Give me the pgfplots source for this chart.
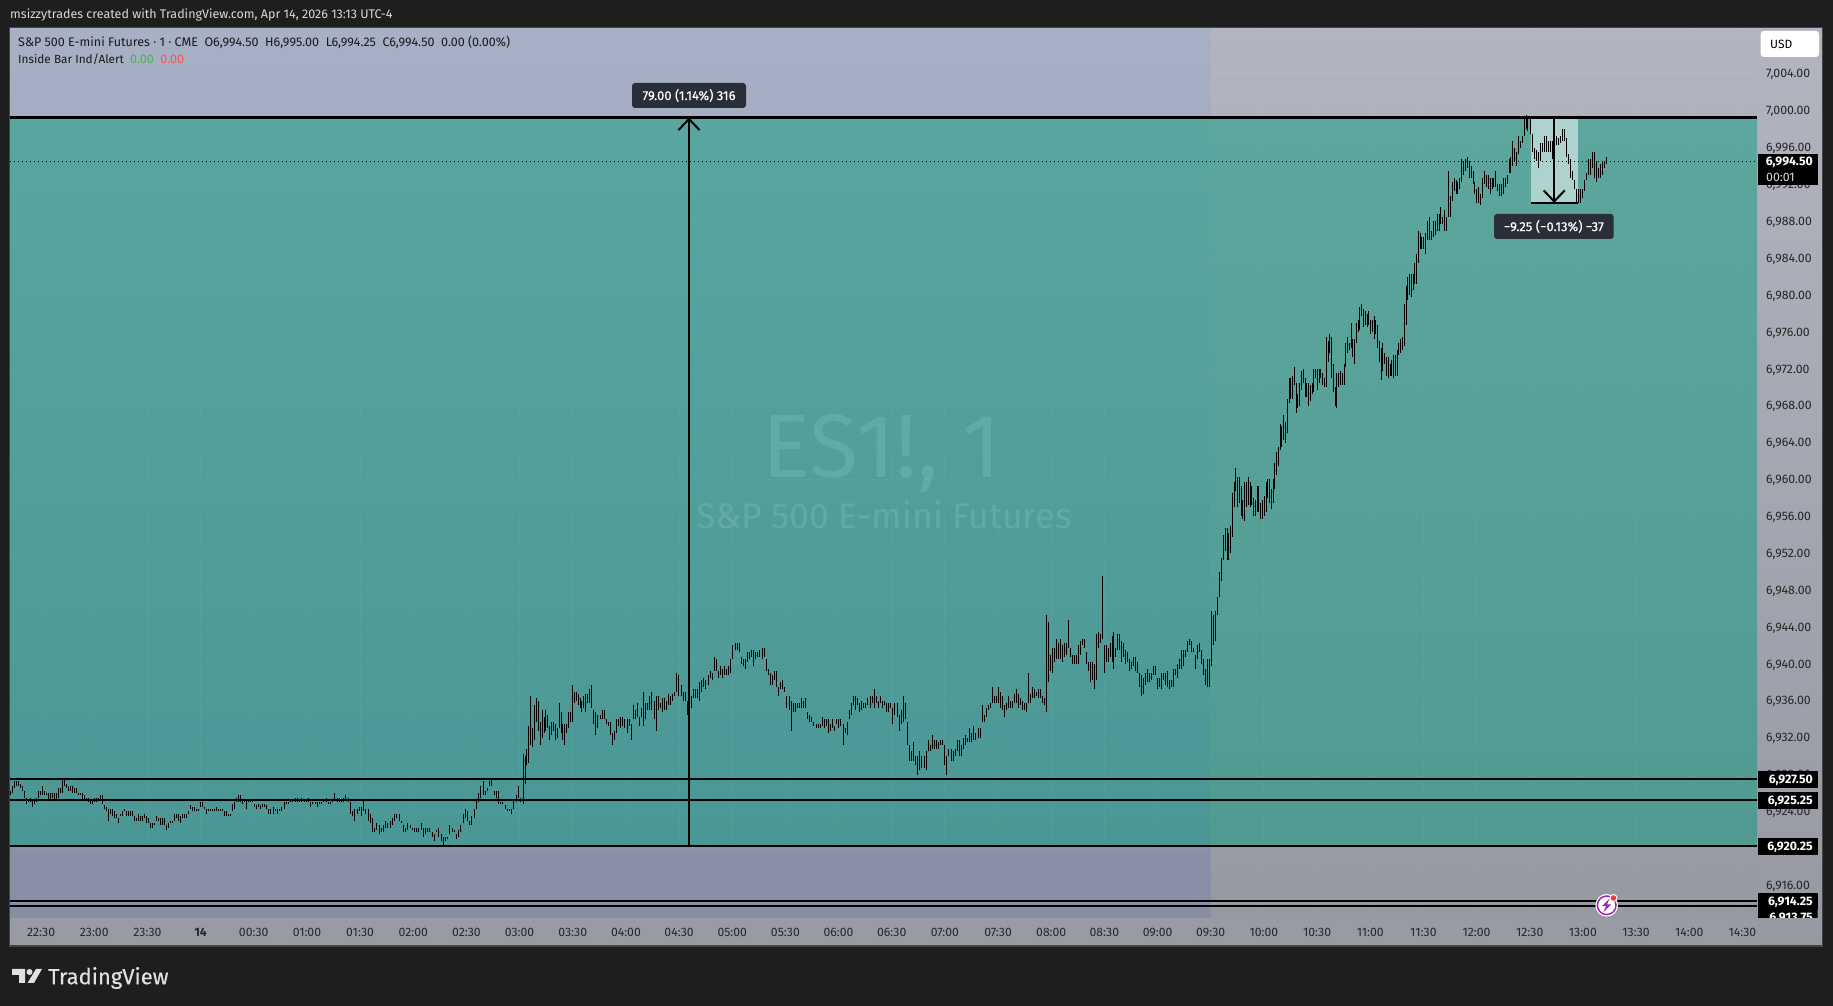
\documentclass[border=0pt]{standalone}
\usepackage{fontspec}
\setmainfont{Fira Sans}
\newfontfamily\semib[FakeBold=0.35]{Fira Sans}
\usepackage{pgfplots}
\pgfplotsset{compat=1.18}
\usetikzlibrary{arrows.meta}
\definecolor{pagebg}{HTML}{1E1E1E}
\definecolor{frameg}{HTML}{444444}
\definecolor{ltop}{HTML}{A8B0C5}
\definecolor{lbot}{HTML}{878EA3}
\definecolor{rtop}{HTML}{B2B4BF}
\definecolor{rbot}{HTML}{9699A2}
\definecolor{tealtl}{HTML}{59A5A0}
\definecolor{tealbl}{HTML}{4B9795}
\definecolor{tealtr}{HTML}{5CA69D}
\definecolor{tealbr}{HTML}{519A92}
\definecolor{boxdark}{HTML}{2A2E39}
\definecolor{tvgreen}{HTML}{4CAF50}
\definecolor{tvred}{HTML}{F55555}
\definecolor{wm}{HTML}{60ABA6}
\definecolor{tvpurple}{HTML}{9C27B0}
\definecolor{timebg}{HTML}{989BA4}
\definecolor{mfill}{HTML}{AED3CF}
\definecolor{dotred}{HTML}{F23645}
\definecolor{logog}{HTML}{E0E0E0}
\pgfplotsset{bars/.style={forget plot,draw=none,mark=none,
  error bars/.cd,y dir=plus,y explicit,error mark=none,
  error bar style={solid,draw=black,line width=1pt}}}
\newcommand{\fs}[1]{\fontsize{#1}{#1}\selectfont}
\begin{document}
\begin{tikzpicture}[x=1pt,y=1pt]
\begin{scope}[x=1pt,y=-1pt,yshift=1006pt]
\fill[pagebg] (0,0) rectangle (1833,1006);
% panes
\shade[top color=ltop,bottom color=lbot] (10,28) rectangle (1211,918);
\shade[top color=rtop,bottom color=rbot] (1211,28) rectangle (1757,918);
\shade[top color=rtop,bottom color=rbot] (1757,28) rectangle (1822,946);
\fill[timebg] (10,918) rectangle (1757,946);
\shade[top color=tealtl,bottom color=tealbl] (10,117.7) rectangle (1211,846);
\shade[top color=tealtr,bottom color=tealbr] (1211,117.7) rectangle (1757,846);
\draw[frameg,line width=1.5pt] (9.5,27.5) rectangle (1822.5,946);
% watermark
\node[wm,anchor=center,inner sep=0pt] at (882,453) {\fs{90}ES1!, 1};
\node[wm,anchor=center,inner sep=0pt] at (884,515) {\fs{35.6}S\&P 500 E-mini Futures};
% short measure fill
\fill[mfill] (1530.7,117.7) rectangle (1577.7,203);
\end{scope}
\begin{axis}[at={(10pt,88pt)},anchor=south west,scale only axis,width=1747pt,height=890pt,
  xmin=-17.55,xmax=968.25,ymin=6912.44,ymax=7008.97,
  axis line style={draw=none},major tick length=0pt,
  xmajorgrids,ymajorgrids,grid style={white,opacity=0.03,line width=1pt},
  xtick={0,30,...,960},
  xticklabels={22:30,23:00,23:30,\textbf{14},00:30,01:00,01:30,02:00,02:30,03:00,03:30,04:00,04:30,05:00,05:30,06:00,06:30,07:00,07:30,08:00,08:30,09:00,09:30,10:00,10:30,11:00,11:30,12:00,12:30,13:00,13:30,14:00,14:30},
  ytick={6916,6920,6924,6928,6932,6936,6940,6944,6948,6952,6956,6960,6964,6968,6972,6976,6980,6984,6988,6992,6996,7000,7004},
  scaled y ticks=false,yticklabel pos=right,xticklabel pos=bottom,
  xticklabel style={anchor=center,yshift=-14pt,inner sep=0pt,font=\fs{12.2},text=black!85},
  yticklabel style={anchor=west,xshift=9pt,yshift=-1pt,inner sep=0pt,font=\fs{12.3},text=black!85,
    /pgf/number format/.cd,fixed,fixed zerofill,precision=2,1000 sep={,},assume math mode=true},
  clip=true]
\addplot[bars] table[x expr=-17+\coordindex*1.125,y expr=6900+\thisrow{l},y error expr=\thisrow{h}-\thisrow{l}] {
l h
25.75 26.25
26 26.75
26.5 27.25
26.75 27.25
26.75 27.25
26.5 27
26.25 26.75
25.5 26.25
24.75 25.5
25 25.25
25 25.5
24.5 25.25
24.75 25.25
25 25.5
25.5 26.25
25.75 26.25
25.75 26.75
25.75 26.25
25.75 26
25.25 26
25.25 26
25.5 26
25.25 26
25.25 26
25.5 26.5
26 26.5
26 27.5
26.75 27.5
26.5 27
26.25 26.75
26.25 26.75
26 26.75
26 26.5
26 26.5
25.75 26
25.75 26
25.25 26
25.25 25.75
25.25 25.5
25 25.5
24.75 25.25
24.75 25.25
25 25.5
25 25.5
25.25 25.5
25.25 25.75
24.75 25.75
24.25 24.75
24 24.5
23 24.25
23.75 24.25
23.5 24.25
23.25 24
23.25 23.75
22.75 23.25
23.5 23.75
23.5 24
24 24.25
23.5 24
23.5 24
23.5 24
23.5 24
23 23.5
23 23.25
23 23.75
23 23.5
23 23.5
23.25 23.75
22.75 23.5
22.75 23.25
22.25 22.75
22.25 22.75
22.5 22.75
23 23.5
23 23.25
22.5 23.25
22.5 23.25
22.5 23.25
22 22.5
22.25 22.75
22.75 23
22.75 23
23 23.75
23.25 23.75
23 23.75
22.75 23.5
23.25 23.75
23.25 23.75
23.25 23.75
23.75 24
24.25 24.75
24 24.5
24 24.5
24 24.25
24 24.25
24.5 25
24.5 25
24.25 24.5
23.75 24.25
24 24.25
24 24.25
24 24.25
24 24.25
24 24.5
24 24.25
24 24.25
24 24.25
23.5 24
23.5 24
23.5 23.75
23.5 23.75
24 24.75
24.25 25
25 25.5
25 25.75
25 25.75
24.75 25.25
25 25.25
24.25 25.25
25 25.25
25 25.25
25 25.25
24.5 24.75
24.25 24.75
24.5 24.75
24.25 24.75
24.5 24.75
24.5 24.75
24.25 24.75
};
\addplot[bars] table[x expr=128.4+\coordindex*1.247,y expr=6900+\thisrow{l},y error expr=\thisrow{h}-\thisrow{l}] {
l h
23.75 24.25
23.75 24.25
23.75 24.5
24 24.25
23.75 24.25
24 24.25
24 24.5
24.25 25
24.75 25
24.75 25
25 25.25
25 25.25
25 25.5
25 25.5
25 25.25
25 25.5
25 25.25
25 25.25
25 25.5
24.5 25
24.75 25
24.75 25
24.5 25
24.75 25
24.75 25
25 25.25
25 25.5
24.75 25
24.75 25
25 25.25
25.25 26
25 25.5
25 25.5
25 25.25
25 25.5
25.25 25.75
25 25.5
23.75 25
23.5 24
23 24.25
23.75 24.25
24 24.5
23.5 24.5
24 25.25
23.75 24.25
23 24.25
22.75 23.75
21.75 23.25
21.75 22.25
22 22.75
21.5 22.5
21.75 22.25
21.75 22.5
22.25 23
22.25 22.75
22.25 23
22.5 23.25
23 23.75
23.25 23.75
23 23.75
22.75 23
21.75 22.5
21.75 22.25
22 22.75
22.25 22.5
22 22.25
21.75 22.25
21.75 22.25
21.75 22.25
22 22.75
21.25 22.25
21.5 22.25
21.75 22.25
21.75 22.25
21.25 21.75
20.75 21.5
21.75 22
21.25 22.25
20.75 21.5
20.25 21.25
20.75 21.25
21 21.25
21.5 22.5
21.75 22.25
21.75 22
21 21.5
21.25 22
21.75 22.5
22.75 23.75
23.25 24.25
23 24
22.5 23
22.5 23.5
23.25 24.25
24.25 25.25
25 26
25.5 26.75
25.75 27.25
25.75 26.25
26.25 26.5
26.75 27.25
26.75 27.5
25.75 26.25
25.5 26.25
24.75 26.25
24.75 25
24.75 25
24.25 24.75
24 24.25
24 24.25
23.75 24.25
24.25 25.25
25 25.75
25.5 26.75
25 25.5
};
\addplot[bars] table[x expr=272+\coordindex*1.071,y expr=6900+\thisrow{l},y error expr=\thisrow{h}-\thisrow{l}] {
l h
24.75 30.25
27 30
29 30.75
29.25 33.25
31.25 36.5
31 33
31.75 35.5
33.75 36.25
32.75 36
31.25 33.75
32 35
32.5 34.25
32.75 35
33 34.5
31.75 33.25
32.25 33.75
32.75 33.75
31.75 33.5
32 33
33 35.75
32.5 34.75
31.75 33.5
31.25 33.5
32.5 33.5
33 34.75
33.75 34.75
33.75 37.75
35.75 37
36 37
35.5 36.75
35.25 36.25
34.75 36
35.25 36.5
34.75 36.75
35.75 36.75
35.75 37.25
};
\addplot[bars] table[x expr=310.7+\coordindex*1.172,y expr=6900+\thisrow{l},y error expr=\thisrow{h}-\thisrow{l}] {
l h
35.25 37.75
33.5 35
32.25 34.75
33 34.5
34 34.5
34 35
34 35
33.5 34
33.25 33.75
32.25 33.75
31.25 32.5
31.75 32.75
32.5 34
33.25 34
33 34.25
33.25 34.25
33 34
32.5 34
33.25 34
31.75 33.5
34 35.5
34 35
34.25 35.75
33.25 34.25
34.25 35.25
33.25 37
34 35.75
35 35.75
35 36.5
35 37
34 36
32.75 36.5
35 36.5
35.25 35.75
34.75 36.25
35 36.25
35 36
35.5 36.75
35.5 36.5
36 36.75
36.5 37
37 39
36.5 38.75
36.5 37.75
36 37
36 37
34.5 36
34.5 35.75
35.25 36.5
36.25 37.25
36.25 37.25
36.25 37.25
36 38
37 38.25
37.5 38.5
37.25 38.25
37.75 38.75
38.5 39.25
38.25 39
39.25 40.75
39.25 40.5
38.5 39.25
38.75 39.75
38.5 39.5
38.75 39.75
38.75 39.5
38.75 39.75
39 40.5
40.5 42
41.5 42.25
41.5 42.25
41.25 42.25
40 40.75
39.75 40.5
39.5 40.5
40.25 41.25
40.5 41.25
40.75 41.5
39.75 41.5
40.5 41.25
40.75 41.25
40.75 41.5
40.5 41.75
40.75 41.75
39.25 40.5
38.75 39.5
37.75 39
37.75 38.75
38.25 39.25
37.5 39.25
36.5 37.5
37.25 38
37.25 38.25
37 37.5
35.25 36.5
35 36.5
32.75 36
34.75 35.75
34.75 35.75
35.25 35.75
35.25 35.75
35.25 36.25
35.25 36
35.25 36.25
34 34.75
33.75 34.5
33.75 34.25
33.25 33.75
33 33.5
33 33.5
33 33.5
33.25 34.25
33 34
33.25 34
32.5 34
32.75 33.5
33 34
32.75 33.25
33.5 34
33 34
33.25 34
31.25 33.5
32.5 33
32.25 33.75
34 35
34.5 35.75
35.5 36.5
35 36.5
35.5 36.25
34.75 35.75
35 36
35.25 35.75
35.25 35.75
35.5 36.25
35.25 36.5
35.75 36.5
35.25 37.25
35.75 36.5
35.25 36
35.75 36.5
35.25 36
35.5 36
34.75 35.75
34.75 35.75
35.25 35.75
33.5 35.25
34.5 35.75
34.25 35.75
32.75 34.5
33.5 35
33.75 36.5
34 35.75
31.25 33.75
29.5 31.25
29.5 30.5
29.5 31.5
29 30
28 30
28.5 30.5
28.75 30
28.75 30
28.5 30.5
30.5 31.75
30.5 31.25
30.75 32.25
30.75 31.75
30.75 31.75
30.75 31.5
31.25 31.75
31.25 31.75
29 31.25
28 30
30 30.75
29.5 30.75
29.5 30.5
30 30.75
30.5 31.75
30 31.75
30 31.25
30.75 32
31.25 32.25
31.5 32
31.5 33
31.5 32.5
31.75 33.25
31.75 32.5
32 33
32 33
33.75 35.5
33.75 34.5
34.25 35.25
35 35.5
35.25 35.75
35.75 37.5
35.75 36.5
35.75 36.5
35.75 37.5
};
\addplot[bars] table[x expr=541.4+\coordindex*1.123,y expr=6900+\thisrow{l},y error expr=\thisrow{h}-\thisrow{l}] {
l h
35.25 37
35 36.5
34.25 35.5
35 35.75
35.25 36.5
35.25 36
35.25 36
35.75 36.75
35.75 37.25
35.25 36.75
35.5 36.25
35 36
35 35.75
34.75 35.75
35.75 39
35.75 36.75
36.25 37.5
36.25 37.25
36.5 37
36.25 37.25
36.25 37.25
35.75 36.5
35.5 36.25
34.75 45.25
38 44.5
39.25 41
39 41.75
40.25 41.75
40.5 42.75
40.5 42.25
40.5 42.75
40.25 42
40.75 42.25
41 42.25
41.75 44.75
40.75 41.75
40 41
40 41
40 41
40 42
41 42.5
42 42.75
41.75 42.75
40 41.25
39.25 40.25
38 40.25
38.25 40.25
37.25 40
38.25 43.25
41.75 43.5
42.25 43.25
42.75 49.5
39 42
40.25 42
40.25 41.75
40.75 42.25
40.25 43
39.5 43.5
40.75 41.75
41.5 43.25
41.5 43.25
40.25 42.5
40.75 42.25
40 41.5
40.25 41.25
39.25 40.5
39.5 40.25
39.75 40.75
39.25 40.75
39 40.25
37.5 39
36.5 38.75
36.75 38.5
37.75 39
38 39.5
38 39
38.25 39
38.75 39.75
38.75 39.75
37.25 38.5
37.5 38.5
37.25 39
38.25 39
37.75 39
37.5 39.25
37.25 38.25
37.5 38.25
37.5 39.5
38.75 39.5
38.5 40
39.5 40.5
39.5 41.5
39.75 41.5
40.75 41.5
41.25 42.5
42 42.75
41.25 42.5
41.25 41.75
39.5 41
40.5 42
41.25 42.25
40 41.5
38.75 40.5
37.75 39.5
37.5 40.5
37.5 40.5
39.75 45.75
42 45.25
42.5 45.75
45.25 47.25
47.25 50
49 51.5
};
\addplot[bars] table[x expr=667.2+\coordindex*1.0,y expr=6900+\thisrow{l},y error expr=\thisrow{h}-\thisrow{l}] {
l h
51.25 54
52.25 54.75
51.25 54.75
51.25 54.25
52 55
53.75 58.5
57 59.75
58.75 61.25
57 60.25
57.5 60.25
56 59.25
55.75 57.75
55.5 59.75
57 59.75
57.25 60.25
57 59.75
57.25 59.25
56 58
56 57.75
56.5 59.25
56.5 59.25
55.75 57.5
55.75 57.75
56 58.25
56.5 59.75
58 60
57.5 60
56.75 59
57.5 60
59 61.75
60.5 63
61.5 63.5
63.25 66
63.5 65.75
64.25 67
64 66.25
65 68.75
68.25 71
68.75 71
68.75 71.25
70.25 72.25
67.25 70.5
67.75 69.25
68 70.5
69.75 71.75
70.5 72
69 71
69 70.5
68 70.5
68.5 70.25
69.25 70.5
69.5 72
71 72
69.75 72
70.5 72
71 72
70.25 71.5
70 71
70 75.5
72.75 75
73.75 75.75
71 75.5
69.5 72.5
68 70
67.75 71.5
70 71.5
70.25 71.75
70.25 71.5
70.25 72.5
72.25 74.75
73.75 75.5
74 74.75
74.25 77
73.25 75.25
72.5 75.25
74.75 77
76 77.25
76.25 78.75
77.75 79
76.5 78.5
76.75 78.25
76.5 78
76.75 78.25
75.75 77.25
76 77.25
75.25 77.75
75.75 77.25
74.25 76.75
72.75 75
70.75 74.25
71.75 74.75
72.5 73.75
71.25 73.25
71 73.25
71.25 72.5
71.25 73
71 73.5
71.25 73.5
71.25 74
73.5 74.75
73.75 75.25
74 75.5
74.5 79
76.75 81
79.5 82
80 82.25
79.75 82.25
80.5 82.25
81.25 83.5
};
\addplot[bars] table[x expr=776+\coordindex*1.068,y expr=6900+\thisrow{l},y error expr=\thisrow{h}-\thisrow{l}] {
l h
81.25 84.5
83.5 87
85 86.75
85 86.25
85 86.25
84.5 86.75
86 88
86 88.5
86 87
86.25 88
86.5 88
87 88.75
87 88.75
87.75 89.5
87.75 88.5
87 89.25
87 88.5
88.5 93.5
88.5 90.75
90.25 92.25
91.25 92.75
91 92.5
91 92.25
91.5 92.75
92.25 94.75
93 94.5
93.5 94.75
93.75 95
92.75 94.5
92.75 94
92 93.5
91 92.25
90 91.5
90 91.75
89.75 91
90.5 92.75
92 93.5
91.75 93
91.5 93
91 92.75
91.5 92.75
91.75 92.75
91.75 93.5
91.25 92
90.75 92
90.75 92
91 92.75
91.75 92.75
92 93
93.25 94.75
93.25 95
94 96.75
94.5 96
94 95.5
95.25 97.25
96 96.75
96.5 97.25
97.25 99.25
98 99.5
97.75 99.25
};
\addplot[bars] table[x expr=840.2+\coordindex*1.134,y expr=6900+\thisrow{l},y error expr=\thisrow{h}-\thisrow{l}] {
l h
97.5 99.25
95.5 97.5
94.75 96
94.5 95.75
93.75 95.5
94.5 96.5
95.5 96.5
95.5 97.25
95.5 97.25
95.5 96.75
95.5 96.75
94.75 96.75
95.5 96.75
96.25 97.25
96.25 97
96.5 97.25
96.75 98
96.75 98
95 97
94.25 95.25
92.75 94.75
92.5 93.5
91.5 92.5
90 91.5
90 91.5
90 91.5
90.5 91.5
91.25 92.5
92.5 93.25
93 94.75
93 94.75
93.75 95.5
92.75 95.5
92.25 94.5
92.75 93.75
92.75 94.25
93 94.5
93.75 94.5
94.25 95
};
% levels
\addplot[black,line width=2.5pt,forget plot] coordinates {(-17.55,6999.25)(968.25,6999.25)};
\addplot[black,line width=1.2pt,dash pattern=on 1pt off 3pt,forget plot] coordinates {(-17.55,6994.45)(968.25,6994.45)};
\addplot[black,line width=2pt,forget plot] coordinates {(-17.55,6927.5)(968.25,6927.5)};
\addplot[black,line width=2pt,forget plot] coordinates {(-17.55,6925.25)(968.25,6925.25)};
\addplot[black,line width=1.6pt,forget plot] coordinates {(-17.55,6920.25)(968.25,6920.25)};
\addplot[black,line width=2pt,forget plot] coordinates {(-17.55,6914.25)(968.25,6914.25)};
\addplot[black,line width=2pt,forget plot] coordinates {(-17.55,6913.75)(968.25,6913.75)};
% measures
\draw[black,line width=2pt,-{Straight Barb[length=11pt,width=21pt,line width=2pt]}] (axis cs:365.6,6920.25) -- (axis cs:365.6,6999.25);
\draw[black,line width=2pt,-{Straight Barb[length=11pt,width=21pt,line width=2pt]}] (axis cs:853.8,6999.25) -- (axis cs:853.8,6990);
\addplot[black,line width=2pt,forget plot] coordinates {(840.6,6990)(867.2,6990)};
\end{axis}
\begin{scope}[x=1pt,y=-1pt,yshift=1006pt]
% measure labels
\fill[boxdark,rounded corners=3pt] (632,83) rectangle (746,108);
\node[white,inner sep=0pt] at (689,95.5) {\fs{13}\semib 79.00 (1.14\%) 316};
\fill[boxdark,rounded corners=3pt] (1494,214) rectangle (1613.7,239);
\node[white,inner sep=0pt] at (1553.8,226.5) {\fs{13}\semib −9.25 (−0.13\%) −37};
% price tags
\fill[black] (1758,154.3) rectangle (1817.7,184.7);
\node[white,inner sep=0pt,anchor=east] at (1813,162.5) {\fs{12.3}\bfseries 6,994.50};
\node[white!85!black,inner sep=0pt,anchor=west] at (1766,177) {\fs{12.3}00:01};
\fill[black] (1758,771) rectangle (1817.7,787.7);
\node[white,inner sep=0pt,anchor=east] at (1813,780) {\fs{12.3}\bfseries 6,927.50};
\fill[black] (1758,792) rectangle (1817.7,808.7);
\node[white,inner sep=0pt,anchor=east] at (1813,801) {\fs{12.3}\bfseries 6,925.25};
\fill[black] (1758,838) rectangle (1817.7,855);
\node[white,inner sep=0pt,anchor=east] at (1813,847) {\fs{12.3}\bfseries 6,920.25};
\begin{scope}
\clip (1758,880) rectangle (1817.7,918);
\fill[black] (1758,893) rectangle (1817.7,918);
\node[white,inner sep=0pt,anchor=east] at (1813,918) {\fs{12.3}\bfseries 6,913.75};
\end{scope}
\fill[black] (1758,893) rectangle (1817.7,909);
\node[white,inner sep=0pt,anchor=east] at (1813,902) {\fs{12.3}\bfseries 6,914.25};
% USD
\fill[white,rounded corners=3pt] (1760.7,31) rectangle (1819,57);
\node[black,inner sep=0pt,anchor=west] at (1770,44.5) {\fs{12}USD};
% header
\node[white!85!black,inner sep=0pt,anchor=west] at (10,15) {\fs{12.5}msizzytrades created with TradingView.com, Apr 14, 2026 13:13 UTC-4};
\node[black!90,inner sep=0pt,anchor=west] at (18,42) {\fs{12.5}S\&P 500 E-mini Futures · 1 · CME\ \ O6,994.50\ \ H6,995.00\ \ L6,994.25\ \ C6,994.50\ \ 0.00 (0.00\%)};
\node[black!90,inner sep=0pt,anchor=west] at (18,59) {\fs{11.8}Inside Bar Ind/Alert\ \ \fs{12.5}\textcolor{tvgreen}{0.00}\ \ \textcolor{tvred}{0.00}};
% icon
\fill[white] (1606.7,905.3) circle (11.3);
\draw[tvpurple,line width=1.5pt] (1606.7,905.3) circle (9.3);
\fill[tvpurple] (1609.5,898.5) -- (1602,906) -- (1606,906) -- (1603.5,912) -- (1611,904.5) -- (1607,904.5) -- cycle;
\fill[white] (1613.5,898) circle (4);
\fill[dotred] (1613.5,898) circle (2.8);
% logo
\fill[logog] (12,969) -- (25,969) -- (25,983) -- (19,983) -- (19,975) -- (12,975) -- cycle;
\fill[logog] (29.5,972) circle (3);
\fill[logog] (36,969) -- (42,969) -- (34,983) -- (27.5,983) -- cycle;
\node[logog,inner sep=0pt,anchor=west] at (48,978) {\fs{22}\semib TradingView};
\end{scope}
\end{tikzpicture}
\end{document}
